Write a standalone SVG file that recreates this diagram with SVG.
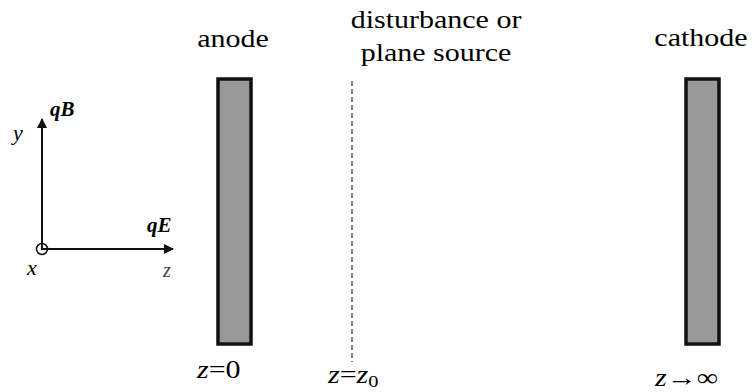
<svg xmlns="http://www.w3.org/2000/svg" width="752" height="392" viewBox="0 0 752 392">
<defs>
<marker id="ah" viewBox="0 0 10 10" refX="9" refY="5" markerWidth="5" markerHeight="5" orient="auto" markerUnits="strokeWidth">
<path d="M0,0 L10,5 L0,10 z" fill="#111"/>
</marker>
</defs>
<rect width="752" height="392" fill="#fff"/>
<g id="axes">
<g stroke="#111" stroke-width="2" fill="none">
<line x1="42" y1="249" x2="42" y2="119" marker-end="url(#ah)"/>
<line x1="42" y1="249" x2="173" y2="249" marker-end="url(#ah)"/>
<circle cx="42" cy="249" r="5.5" stroke-width="1.5"/>
</g>
<circle cx="42" cy="249" r="1.2" fill="#111"/>
<text x="13" y="140" style="font-family:'Liberation Serif',serif !important;font-style:italic;font-size:22px">y</text>
<text x="50" y="116" style="font-family:'Liberation Serif',serif !important;font-style:italic;font-weight:bold;font-size:21px">qB</text>
<text x="147" y="232" style="font-family:'Liberation Serif',serif !important;font-style:italic;font-weight:bold;font-size:21px">qE</text>
<text x="27" y="275" style="font-family:'Liberation Serif',serif !important;font-style:italic;font-size:22px">x</text>
<text x="163" y="277" style="font-family:'Liberation Serif',serif !important;font-style:italic;font-size:20px;fill:#444">z</text>
</g>
<g id="anode">
<rect x="218" y="79" width="33" height="265" fill="#999" stroke="#111" stroke-width="3.5"/>
<text transform="translate(233,47) scale(1.2,1)" style="font-family:'Liberation Serif',serif !important;font-size:25px" text-anchor="middle">anode</text>
<text transform="translate(197,378) scale(1.2,1)" style="font-family:'Liberation Serif',serif !important;font-size:25px"><tspan font-style="italic">z</tspan>=0</text>
</g>
<g id="source">
<line x1="352" y1="81" x2="352" y2="362" stroke="#333" stroke-width="1.2" stroke-dasharray="5,3"/>
<text transform="translate(436,28) scale(1.2,1)" style="font-family:'Liberation Serif',serif !important;font-size:25px" text-anchor="middle">disturbance or</text>
<text transform="translate(436,61) scale(1.2,1)" style="font-family:'Liberation Serif',serif !important;font-size:25px" text-anchor="middle">plane source</text>
<text transform="translate(328,383) scale(1.2,1)" style="font-family:'Liberation Serif',serif !important;font-size:25px"><tspan font-style="italic">z</tspan>=<tspan font-style="italic">z</tspan><tspan font-size="17" dy="4">0</tspan></text>
</g>
<g id="cathode">
<rect x="686" y="79" width="33" height="265" fill="#999" stroke="#111" stroke-width="3.5"/>
<text transform="translate(701,46) scale(1.2,1)" style="font-family:'Liberation Serif',serif !important;font-size:25px" text-anchor="middle">cathode</text>
<text transform="translate(655,386) scale(1.2,1)" style="font-family:'Liberation Serif',serif !important;font-size:25px"><tspan font-style="italic">z</tspan>&#8594;&#8734;</text>
</g>
</svg>
